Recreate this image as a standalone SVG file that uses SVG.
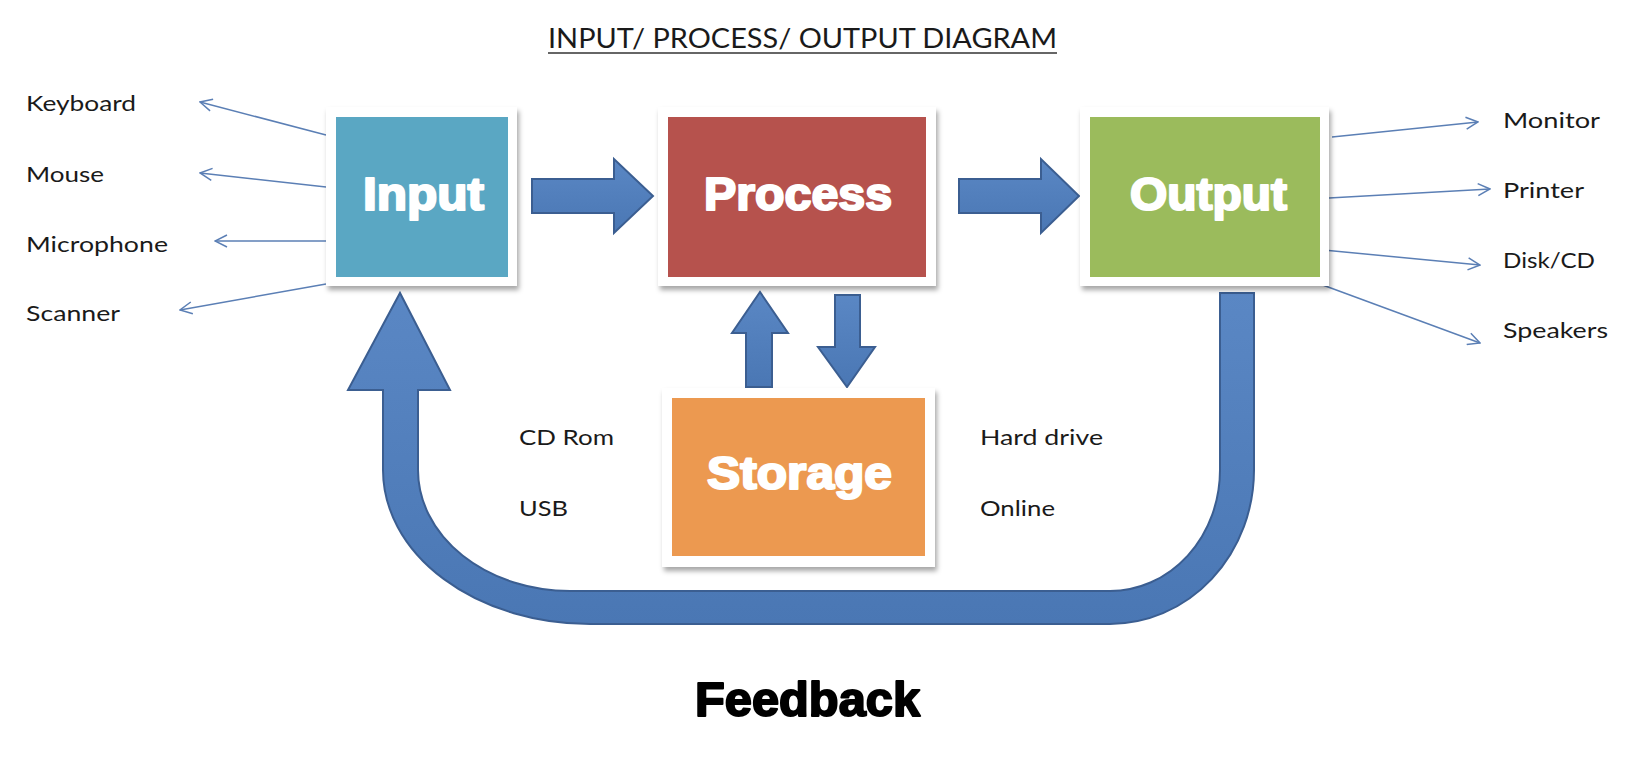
<svg xmlns="http://www.w3.org/2000/svg" width="1632" height="760" viewBox="0 0 1632 760">
<defs>
<filter id="sh" x="-10%" y="-10%" width="125%" height="130%">
<feDropShadow dx="2" dy="4" stdDeviation="2.5" flood-color="#000" flood-opacity="0.35"/>
</filter>
<linearGradient id="blueV" x1="0" y1="0" x2="0" y2="1">
<stop offset="0" stop-color="#5a87c4"/>
<stop offset="1" stop-color="#4a77b4"/>
</linearGradient>
<marker id="open" viewBox="0 0 14 14" refX="13" refY="7" markerWidth="14" markerHeight="14" markerUnits="userSpaceOnUse" orient="auto">
<path d="M1,1 L13,7 L1,13" fill="none" stroke="#5b7fb5" stroke-width="1.5"/>
</marker>
<style>
.frame{fill:#fff;filter:url(#sh);}
.lbl{font-family:"Lato","Open Sans","Liberation Sans",sans-serif;font-size:22px;fill:#1a1a1a;}
.big{font-family:"Liberation Sans","Arial",sans-serif;font-weight:bold;font-size:46px;fill:#fff;stroke:#fff;stroke-width:2.2;stroke-linejoin:round;}
.blk{fill:url(#blueV);stroke:#3b5e91;stroke-width:2;stroke-linejoin:miter;}
.thin{stroke:#5b7fb5;stroke-width:1.5;fill:none;marker-end:url(#open);}
</style>
</defs>
<rect width="1632" height="760" fill="#fff"/>

<g id="title">
<text x="548" y="48" class="lbl" style="font-size:26px" textLength="509" lengthAdjust="spacingAndGlyphs">INPUT/ PROCESS/ OUTPUT DIAGRAM</text>
<line x1="548" y1="53" x2="1057" y2="53" stroke="#333" stroke-width="1.6"/>
</g>

<g id="connectors">
<path class="blk" d="M1254,293 L1254,470 A144,154 0 0 1 1110,624 L590,624 A207,154 0 0 1 383,470 L383,390 L348,390 L400,293 L450,390 L418,390 L418,470 A152,121 0 0 0 570,591 L1110,591 A110,121 0 0 0 1220,470 L1220,293 Z"/>
<path class="blk" d="M532,179 L614,179 L614,159 L653,196 L614,233 L614,213 L532,213 Z"/>
<path class="blk" d="M959,179 L1041,179 L1041,159 L1079,196 L1041,233 L1041,213 L959,213 Z"/>
<path class="blk" d="M746,387 L746,333 L732,333 L760,292 L788,333 L772,333 L772,387 Z"/>
<path class="blk" d="M835,295 L860,295 L860,347 L875,347 L847,387 L818,347 L835,347 Z"/>
<line class="thin" x1="326" y1="135" x2="200" y2="102"/>
<line class="thin" x1="326" y1="187" x2="200" y2="173"/>
<line class="thin" x1="326" y1="241" x2="215" y2="241"/>
<line class="thin" x1="326" y1="284" x2="180" y2="310"/>
<line class="thin" x1="1332" y1="137" x2="1478" y2="122"/>
<line class="thin" x1="1329" y1="198" x2="1490" y2="189"/>
<line class="thin" x1="1313" y1="249" x2="1480" y2="265"/>
<line class="thin" x1="1320" y1="284" x2="1480" y2="343"/>
</g>

<g id="input">
<rect class="frame" x="326" y="107" width="191" height="179"/>
<rect x="336" y="117" width="172" height="160" fill="#5aa7c3"/>
<text x="363" y="210" class="big" textLength="121" lengthAdjust="spacingAndGlyphs">Input</text>
</g>
<g id="process">
<rect class="frame" x="658" y="107" width="278" height="179"/>
<rect x="668" y="117" width="258" height="160" fill="#b6524d"/>
<text x="704" y="210" class="big" textLength="188" lengthAdjust="spacingAndGlyphs">Process</text>
</g>
<g id="output">
<rect class="frame" x="1080" y="107" width="249" height="179"/>
<rect x="1090" y="117" width="230" height="160" fill="#9bbb5c"/>
<text x="1130" y="210" class="big" textLength="157" lengthAdjust="spacingAndGlyphs">Output</text>
</g>
<g id="storage">
<rect class="frame" x="662" y="388" width="273" height="179"/>
<rect x="672" y="398" width="253" height="158" fill="#ec9950"/>
<text x="707" y="489" class="big" textLength="185" lengthAdjust="spacingAndGlyphs">Storage</text>
</g>

<g id="labels">
<text x="26" y="111" class="lbl" textLength="110" lengthAdjust="spacingAndGlyphs">Keyboard</text>
<text x="26" y="182" class="lbl" textLength="78" lengthAdjust="spacingAndGlyphs">Mouse</text>
<text x="26" y="252" class="lbl" textLength="142" lengthAdjust="spacingAndGlyphs">Microphone</text>
<text x="26" y="321" class="lbl" textLength="94" lengthAdjust="spacingAndGlyphs">Scanner</text>
<text x="1503" y="128" class="lbl" textLength="97" lengthAdjust="spacingAndGlyphs">Monitor</text>
<text x="1503" y="198" class="lbl" textLength="81" lengthAdjust="spacingAndGlyphs">Printer</text>
<text x="1503" y="268" class="lbl" textLength="92" lengthAdjust="spacingAndGlyphs">Disk/CD</text>
<text x="1503" y="338" class="lbl" textLength="105" lengthAdjust="spacingAndGlyphs">Speakers</text>
<text x="519" y="445" class="lbl" textLength="95" lengthAdjust="spacingAndGlyphs">CD Rom</text>
<text x="519" y="516" class="lbl" textLength="49" lengthAdjust="spacingAndGlyphs">USB</text>
<text x="980" y="445" class="lbl" textLength="123" lengthAdjust="spacingAndGlyphs">Hard drive</text>
<text x="980" y="516" class="lbl" textLength="75" lengthAdjust="spacingAndGlyphs">Online</text>
</g>

<g id="feedback">
<text x="695" y="716" font-family="Liberation Sans, Arial, sans-serif" font-weight="bold" font-size="48" fill="#000" stroke="#000" stroke-width="2" stroke-linejoin="round" textLength="225" lengthAdjust="spacingAndGlyphs">Feedback</text>
</g>
</svg>
